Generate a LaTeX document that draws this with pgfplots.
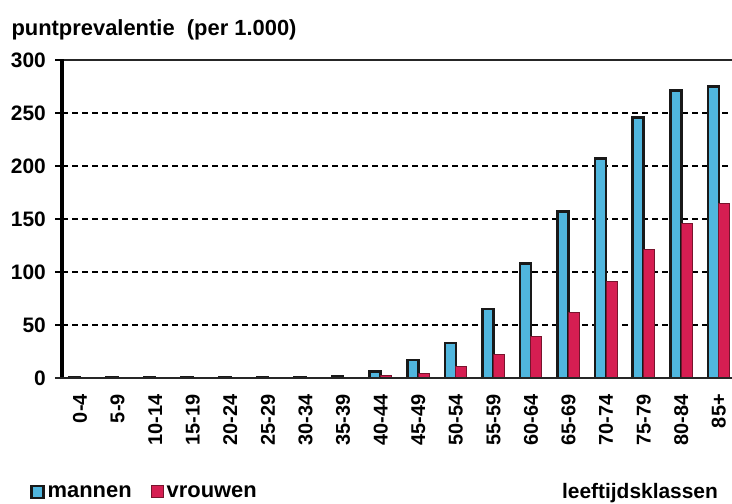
\documentclass[border=0pt]{standalone}
\usepackage{pgfplots}
\pgfplotsset{compat=1.18}
\usepackage{fontspec}
\setmainfont{Liberation Sans}
\definecolor{menblue}{RGB}{80,182,222}
\definecolor{womred}{RGB}{214,30,82}
\definecolor{womedge}{RGB}{120,20,45}
\begin{document}
\begin{tikzpicture}
\useasboundingbox (-62bp,-126bp) rectangle (670bp,378bp);
\begin{axis}[
  scale only axis, width=670bp, height=318bp,
  xmin=-0.48, xmax=17.35, ymin=0, ymax=300,
  clip=false,
  ybar=0pt, bar width=11bp,
  axis x line=bottom, axis y line=left,
  axis line style={-},
  every outer x axis line/.append style={-, line width=2.8bp, black!85},
  every outer y axis line/.append style={-, line width=3bp, black},
  tick align=outside, major tick length=7bp,
  xtick={0,...,17},
  xticklabels={0-4,5-9,10-14,15-19,20-24,25-29,30-34,35-39,40-44,45-49,50-54,55-59,60-64,65-69,70-74,75-79,80-84,85+},
  xtick style={draw=none},
  xticklabel style={rotate=90, anchor=east, font=\fontsize{20}{22}\selectfont\bfseries, inner sep=9bp},
  ytick={0,50,...,250},
  yticklabel style={font=\fontsize{21}{23}\selectfont\bfseries, inner sep=0pt, xshift=-9bp},
  /pgf/number format/assume math mode=true,
  ymajorgrids, major grid style={dashed, dash pattern=on 6bp off 4bp, line width=2bp, black},
  extra y ticks={300},
  extra y tick style={major grid style={solid, line width=2.2bp, black!85}},
  legend style={at={(axis description cs:-0.048,-0.358)}, anchor=west, draw=none, fill=none,
    legend columns=2, font=\fontsize{22}{24}\selectfont\bfseries, inner sep=0pt,
    nodes={inner xsep=3bp},
    /tikz/every even column/.style={column sep=16bp}},
  legend image code/.code={\draw[#1] (0bp,-6bp) rectangle (12bp,6bp);},
]
\addplot[fill=menblue, draw=black!90, line width=2.6bp] coordinates {
 (0,0.3) (1,0.3) (2,0.3) (3,0.3) (4,0.3) (5,0.4) (6,0.6) (7,1.5) (8,6) (9,17)
 (10,33) (11,65) (12,108) (13,157) (14,207) (15,246) (16,271) (17,275)};
\addplot[fill=womred, draw=womedge, line width=1bp] coordinates {
 (0,0) (1,0) (2,0) (3,0) (4,0) (5,0) (6,0.2) (7,0.5) (8,2) (9,4)
 (10,11) (11,22) (12,39) (13,62) (14,91) (15,121) (16,146) (17,165)};
\legend{mannen,vrouwen}
\end{axis}
\draw[line width=3.2bp, black] (0bp,-1bp) -- (0bp,319bp);
\draw[line width=2.8bp, black!85] (-7bp,0bp) -- (670bp,0bp);
\foreach \y in {53,106,159,212,265,318}{
  \draw[line width=2bp, black] (0bp,\y bp) -- (-7bp,\y bp);
}
\node[anchor=west, font=\fontsize{22}{24}\selectfont\bfseries] at (-54bp,348bp) {puntprevalentie\ \ (per 1.000)};
\node[font=\fontsize{21}{23}\selectfont\bfseries] at (578bp,-115bp) {leeftijdsklassen};
\end{tikzpicture}
\end{document}
